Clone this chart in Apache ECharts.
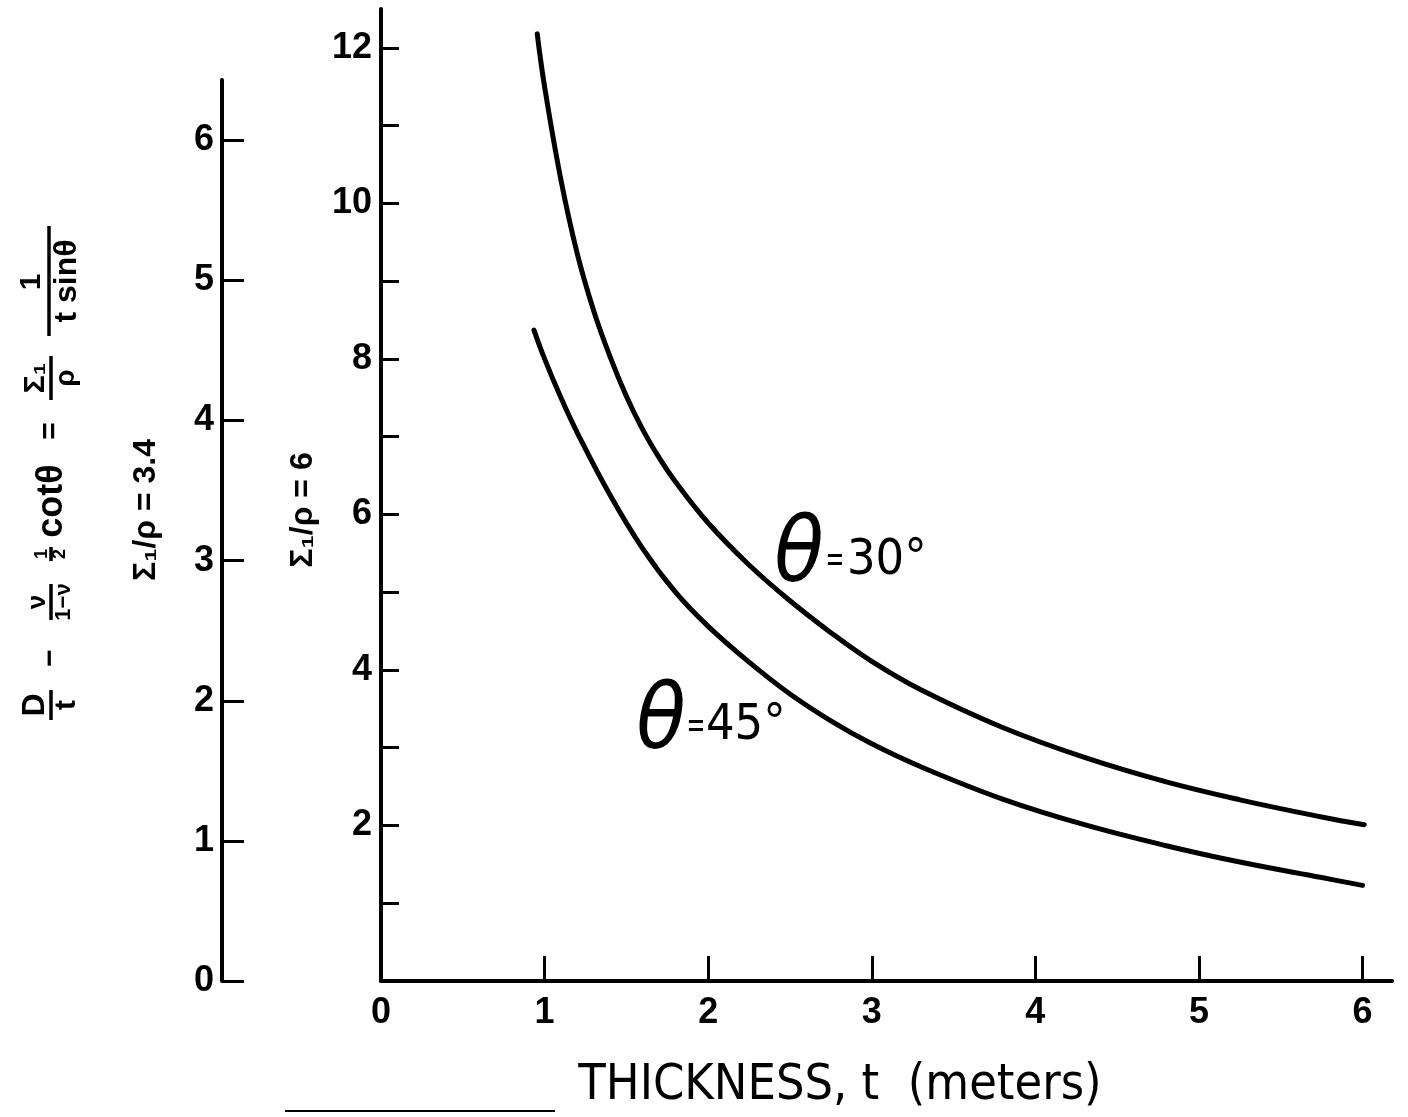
<!DOCTYPE html>
<html>
<head>
<meta charset="utf-8">
<script src="https://cdn.jsdelivr.net/npm/echarts@6/dist/echarts.min.js"></script>
<style>
  html, body { margin: 0; background: #fff; }
  #chart { width: 1408px; height: 1117px; }
</style>
</head>
<body>
<div id="chart"></div>
<script>
// values: thickness t (m) -> stress term
const t30 = [0.955, 1.0, 1.1, 1.2, 1.3, 1.4, 1.5, 1.6, 1.7, 1.8, 2.0, 2.25, 2.5, 2.75, 3.0, 3.3, 3.8, 4.3, 4.8, 5.25, 5.75, 6.01];
const y30 = [12.18, 11.5, 10.3, 9.35, 8.62, 8.03, 7.52, 7.09, 6.73, 6.42, 5.89, 5.35, 4.89, 4.48, 4.11, 3.745, 3.26, 2.875, 2.56, 2.33, 2.11, 2.01];
const t45 = [0.935, 1.0, 1.1, 1.2, 1.4, 1.6, 1.8, 2.0, 2.25, 2.5, 2.75, 3.0, 3.3, 3.8, 4.3, 4.8, 5.25, 5.75, 6.0];
const y45 = [8.37, 8.0, 7.5, 7.05, 6.25, 5.56, 5.0, 4.56, 4.1, 3.69, 3.345, 3.05, 2.755, 2.34, 2.01, 1.74, 1.53, 1.33, 1.23];

const xTicks = [1, 2, 3, 4, 5, 6];
const xLabels = [0, 1, 2, 3, 4, 5, 6];
const yTicks = [1, 2, 3, 4, 5, 6, 7, 8, 9, 10, 11, 12];
const yLabels = [2, 4, 6, 8, 10, 12];
const leftTicks = [0, 1, 2, 3, 4, 5, 6];

const chart = echarts.init(document.getElementById('chart'));

const tickFont = { color: '#000', fontSize: 36, fontWeight: 'bold', fontFamily: 'Liberation Sans' };
const axisLine = { show: true, lineStyle: { color: '#000', width: 4 } };
const narrow = "'Liberation Sans Narrow', 'DejaVu Sans Condensed', sans-serif";

function txt(x, y, text, size, extra) {
  return {
    type: 'text', x: x, y: y,
    style: Object.assign({
      text: text, fontSize: size, fontFamily: 'Liberation Sans', fontWeight: 'bold', fill: '#000',
      textAlign: 'center', textVerticalAlign: 'middle', align: 'center', verticalAlign: 'middle'
    }, extra || {})
  };
}
function bar(x1, x2, y) {
  return { type: 'line', shape: { x1: x1, y1: y, x2: x2, y2: y }, style: { stroke: '#000', lineWidth: 3.5 } };
}

// formula, drawn along the reading direction and turned up the page
const formula = [
  txt(15, -15, 'D', 32), bar(0, 30, 1), txt(15, 17, 't', 30),
  txt(62, 1, '−', 30),
  txt(118, -12, 'ν', 26), bar(100, 136, 1), txt(118, 14, '1−ν', 22),
  txt(166, -8, '1', 18), bar(159, 173, 1), txt(166, 10, '2', 18),
  txt(219, 2, 'cotθ', 36),
  txt(289, 1, '=', 30),
  txt(342, -14, 'Σ₁', 30), bar(320, 364, 1), txt(342, 16, 'ρ', 28),
  txt(438, -18, '1', 30), bar(384, 494, -1), txt(439, 17, 't sinθ', 32)
];

const option = {
  animation: false,
  backgroundColor: '#fff',
  grid: [
    { left: 381, top: 9, width: 1011, height: 972 },
    { left: 222, top: 80, width: 1, height: 901 }
  ],
  xAxis: [
    {
      type: 'value', gridIndex: 0, min: 0, max: 6.18,
      axisLine: axisLine,
      splitLine: { show: false },
      axisTick: { show: true, inside: true, length: 25, customValues: xTicks, lineStyle: { color: '#000', width: 3 } },
      axisLabel: Object.assign({ margin: 14, customValues: xLabels }, tickFont)
    },
    { type: 'value', gridIndex: 1, show: false, min: 0, max: 1 }
  ],
  yAxis: [
    {
      type: 'value', gridIndex: 0, min: 0, max: 12.5,
      axisLine: axisLine,
      splitLine: { show: false },
      axisTick: { show: true, inside: true, length: 18, customValues: yTicks, lineStyle: { color: '#000', width: 3 } },
      axisLabel: Object.assign({ margin: 9, customValues: yLabels }, tickFont)
    },
    {
      type: 'value', gridIndex: 1, min: 0, max: 6.43,
      axisLine: axisLine,
      splitLine: { show: false },
      axisTick: { show: true, inside: true, length: 22, customValues: leftTicks, lineStyle: { color: '#000', width: 3 } },
      axisLabel: Object.assign({ margin: 8, customValues: leftTicks }, tickFont)
    }
  ],
  series: [
    {
      name: 'θ = 30°', type: 'line', xAxisIndex: 0, yAxisIndex: 0,
      data: t30.map((t, i) => [t, y30[i]]),
      smooth: 0.4, showSymbol: false,
      lineStyle: { color: '#000', width: 5, cap: 'round' }
    },
    {
      name: 'θ = 45°', type: 'line', xAxisIndex: 0, yAxisIndex: 0,
      data: t45.map((t, i) => [t, y45[i]]),
      smooth: 0.4, showSymbol: false,
      lineStyle: { color: '#000', width: 5, cap: 'round' }
    }
  ],
  graphic: [
    { type: 'group', x: 50, y: 720, rotation: Math.PI / 2, children: formula },
    txt(146, 510, 'Σ₁/ρ = 3.4', 32, { rotation: 0 }),
    txt(303, 510, 'Σ₁/ρ = 6', 32, { rotation: 0 }),
    txt(799, 558, 'θ', 90, { fontWeight: 'normal', fontFamily: narrow, fontStyle: 'italic' }),
    txt(835, 561, '=', 28, {}),
    txt(847, 561, '30°', 50, { fontWeight: 'normal', fontFamily: narrow, textAlign: 'left', align: 'left' }),
    txt(661, 725, 'θ', 90, { fontWeight: 'normal', fontFamily: narrow, fontStyle: 'italic' }),
    txt(696, 727, '=', 28, {}),
    txt(706, 726, '45°', 50, { fontWeight: 'normal', fontFamily: narrow, textAlign: 'left', align: 'left' }),
    txt(840, 1086, 'THICKNESS, t  (meters)', 50, { fontWeight: 'normal', fontFamily: narrow }),
    { type: 'line', shape: { x1: 285, y1: 1111, x2: 555, y2: 1111 }, style: { stroke: '#000', lineWidth: 2 } }
  ]
};
// the two Σ labels read bottom to top
option.graphic[1].rotation = Math.PI / 2;
option.graphic[2].rotation = Math.PI / 2;

chart.setOption(option);
</script>
</body>
</html>
